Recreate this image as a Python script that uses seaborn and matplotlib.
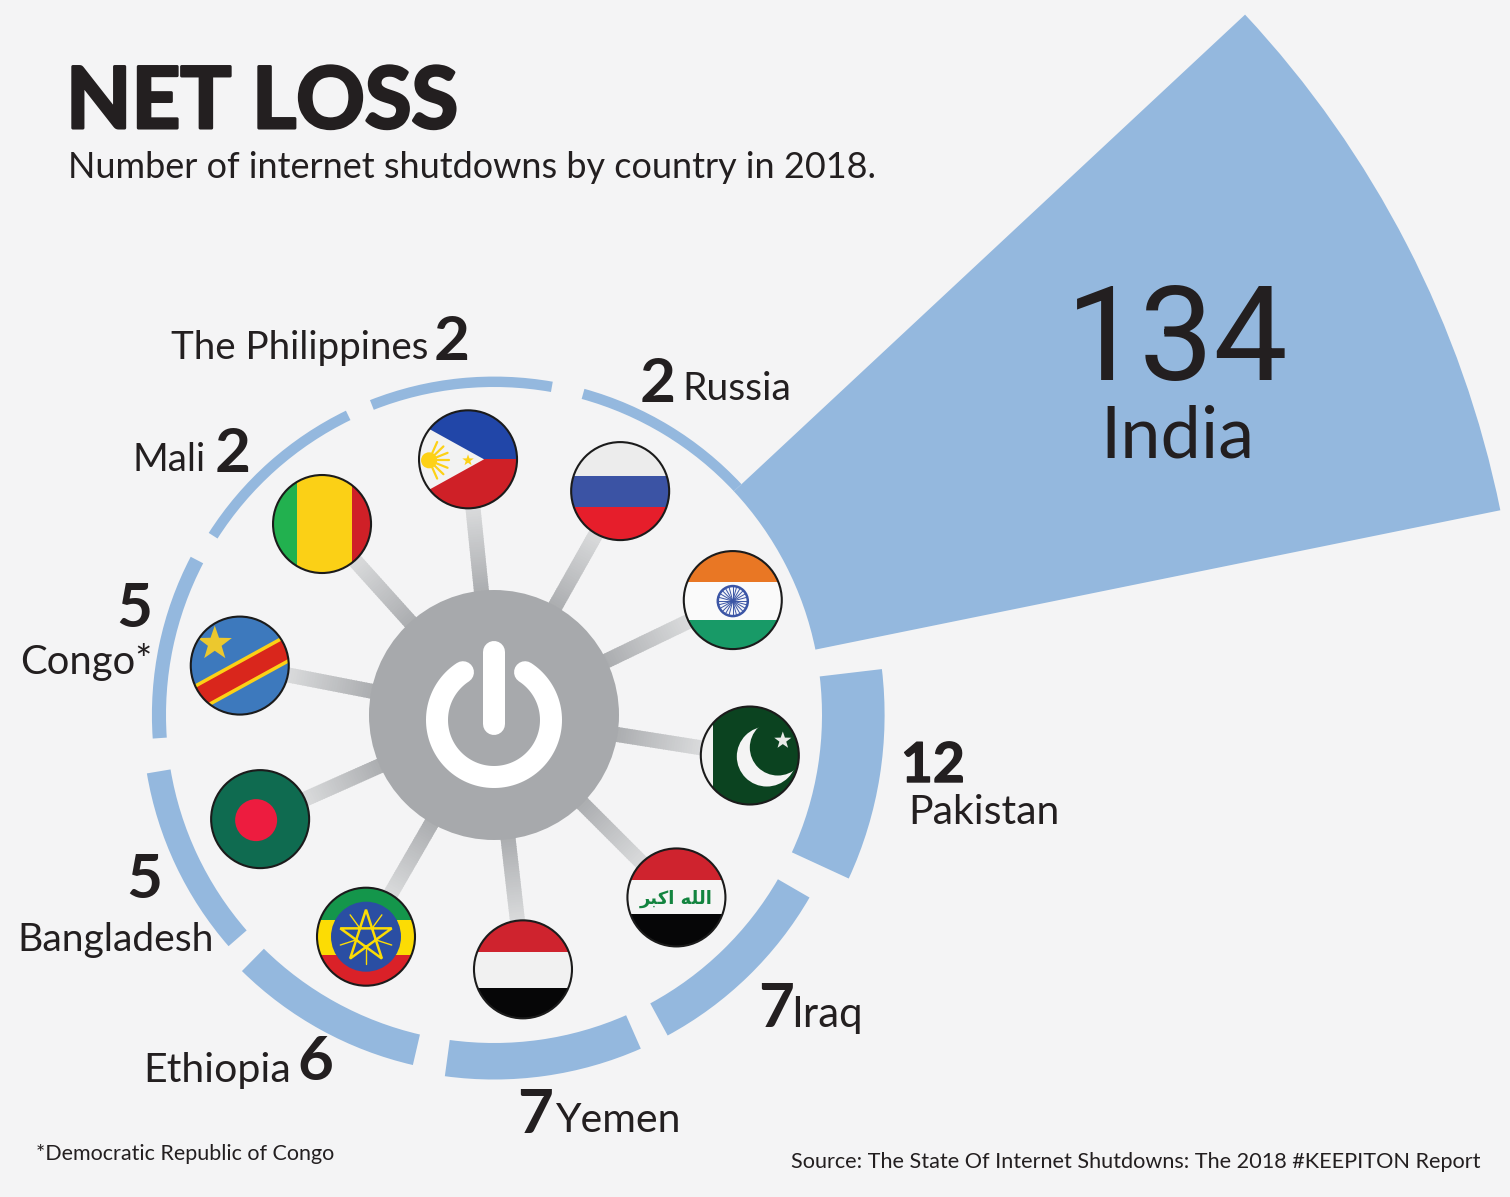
import numpy as np
import pandas as pd
import matplotlib
matplotlib.use("Agg")
import matplotlib.pyplot as plt
import matplotlib.patheffects as pe
from matplotlib.patches import Circle, Rectangle, Polygon
from matplotlib.collections import LineCollection
import seaborn as sns

countries = ["Pakistan", "India", "Russia", "The Philippines", "Mali", "Congo*",
             "Bangladesh", "Ethiopia", "Yemen", "Iraq"]
shutdowns = [12, 134, 2, 2, 2, 5, 5, 6, 7, 7]
# Radial length of each arc as the reference draws it: its Congo arc is thinner than its label of 5.
arc_lengths = [12, 134, 2, 2, 2, 2.7, 4.6, 6, 7, 7]
bar_angles = [351.0, 27.25, 58.75, 95.75, 131.7, 168.2, 205.3, 241.2, 278.0, 314.2]
flag_angles = [-9.0, 25.7, 60.6, 95.8, 132.0, 169.0, 204.0, 240.0, 276.5, 315.0]
title = "NET LOSS"
subtitle = "Number of internet shutdowns by country in 2018."
footnote = "*Democratic Republic of Congo"
source = "Source: The State Of Internet Shutdowns: The 2018 #KEEPITON Report"

W, H = 1510, 1197
BG = "#f4f4f5"
BLUE = "#94b8de"
INK = "#231f20"
HUB = "#a7a9ac"
CX, CY = 494, 715
PX_PER_UNIT = 5.216
INNER = 328 / PX_PER_UNIT
RMAX = 200
FONT = "Lato"

sns.set_theme(style="white")
plt.rcParams["font.family"] = [FONT, "DejaVu Sans"]
fig = plt.figure(figsize=(W / 100, H / 100), dpi=100, facecolor=BG)

R_PX = RMAX * PX_PER_UNIT
pol = fig.add_axes([(CX - R_PX) / W, (H - CY - R_PX) / H, 2 * R_PX / W, 2 * R_PX / H],
                   projection="polar")
df = pd.DataFrame({"theta": np.deg2rad(bar_angles), "length": arc_lengths})
sns.barplot(data=df, x="theta", y="length", native_scale=True, width=1.0, errorbar=None,
            bottom=INNER, color=BLUE, saturation=1, linewidth=0, ax=pol)
pol.set_thetalim(0, 2 * np.pi)
pol.set_rlim(0, RMAX)
pol.set_axis_off()

ax = fig.add_axes([0, 0, 1, 1], facecolor="none")
ax.set_xlim(0, W)
ax.set_ylim(H, 0)
ax.set_axis_off()


def polar_pt(angle, r):
    a = np.deg2rad(angle)
    return CX + r * np.cos(a), CY - r * np.sin(a)


def star(cx, cy, r, rot=0, inner=0.4):
    pts = []
    for i in range(10):
        a = np.deg2rad(-90 + rot + 36 * i)
        rr = r if i % 2 == 0 else r * inner
        pts.append((cx + rr * np.cos(a), cy + rr * np.sin(a)))
    return pts


flag_r = {"Pakistan": 259, "India": 265, "Russia": 257, "The Philippines": 257, "Mali": 257,
          "Congo*": 259, "Bangladesh": 256, "Ethiopia": 256, "Yemen": 256, "Iraq": 258}
spoke_colors = sns.blend_palette([HUB, "#dedfe0"], 40)
FR = 49


def draw_spoke(name, angle):
    r0, r1 = 115, flag_r[name] - 40
    rs = np.linspace(r0, r1, 41)
    segs = [[polar_pt(angle, rs[i]), polar_pt(angle, min(rs[i + 1] + 1, r1))] for i in range(40)]
    ax.add_collection(LineCollection(segs, colors=spoke_colors, linewidths=15 * 0.72,
                                     capstyle="butt", zorder=1))


def draw_flag(name, cx, cy):
    clip = Circle((cx, cy), FR, transform=ax.transData)

    def add(p, z=3):
        p.set_zorder(z)
        p.set_linewidth(0)
        ax.add_patch(p)
        p.set_clip_path(clip)
        return p

    def hband(y0, y1, c):
        add(Rectangle((cx - FR, cy + y0), 2 * FR, y1 - y0, facecolor=c))

    def vband(x0, x1, c):
        add(Rectangle((cx + x0, cy - FR), x1 - x0, 2 * FR, facecolor=c))

    if name == "India":
        hband(-FR, -18, "#e97724")
        hband(-18, 20, "#fafafa")
        hband(20, FR, "#189a67")
        ax.add_patch(Circle((cx, cy + 1), 15, facecolor="#f4f6fb", edgecolor="#3b55a5", lw=1.8, zorder=4))
        for k in range(12):
            a = np.deg2rad(15 * k)
            ax.plot([cx - 15 * np.cos(a), cx + 15 * np.cos(a)],
                    [cy + 1 - 15 * np.sin(a), cy + 1 + 15 * np.sin(a)],
                    color="#3b55a5", lw=0.7, zorder=4)
    elif name == "Russia":
        hband(-FR, -15, "#ececec")
        hband(-15, 16, "#3b53a4")
        hband(16, FR, "#e61e2b")
    elif name == "The Philippines":
        hband(-FR, 0, "#2146a8")
        hband(0, FR, "#cf2027")
        add(Polygon([(cx - 49, cy - 36), (cx + 16, cy), (cx - 49, cy + 36)], facecolor="#f2f2f2"), 4)
        add(Circle((cx - 39, cy + 1), 8, facecolor="#fdd116"), 5)
        for k in range(-3, 4):
            a = np.deg2rad(22 * k)
            line = ax.plot([cx - 39, cx - 39 + 20 * np.cos(a)], [cy + 1, cy + 1 + 20 * np.sin(a)],
                           color="#fdd116", lw=1.6, zorder=5)[0]
            line.set_clip_path(clip)
        add(Polygon(star(cx, cy + 1, 6), facecolor="#fdd116"), 5)
    elif name == "Mali":
        vband(-FR, -25, "#22b14f")
        vband(-25, 30, "#fbd016")
        vband(30, FR, "#cf2027")
    elif name == "Congo*":
        add(Circle((cx, cy), FR, facecolor="#3d79bd"))
        s = -0.55
        yl = lambda x, d: cy + 9 + s * x + d
        add(Polygon([(cx - 55, yl(-55, -15)), (cx + 55, yl(55, -15)), (cx + 55, yl(55, 15)), (cx - 55, yl(-55, 15))],
                    facecolor="#fcd116"), 4)
        add(Polygon([(cx - 55, yl(-55, -11)), (cx + 55, yl(55, -11)), (cx + 55, yl(55, 11)), (cx - 55, yl(-55, 11))],
                    facecolor="#d9261c"), 5)
        add(Polygon(star(cx - 25, cy - 22, 18), facecolor="#ecc82e"), 5)
    elif name == "Bangladesh":
        add(Circle((cx, cy), FR, facecolor="#0f6b50"))
        add(Circle((cx - 4, cy + 1), 21, facecolor="#ed1c3f"), 4)
    elif name == "Ethiopia":
        hband(-FR, -17, "#14964b")
        hband(-17, 18, "#fcdc04")
        hband(18, FR, "#da2128")
        add(Circle((cx, cy), 35, facecolor="#2a4ea3"), 4)
        P = star(cx, cy, 27, inner=1)
        pent = [P[0], P[4], P[8], P[2], P[6]]
        ax.add_patch(Polygon(pent, closed=True, fill=False, edgecolor="#fcdc04", lw=1.8, zorder=5))
        for k in range(5):
            a = np.deg2rad(90 + 72 * k)
            ax.plot([cx + 12 * np.cos(a), cx + 27 * np.cos(a)], [cy + 12 * np.sin(a), cy + 27 * np.sin(a)],
                    color="#fcdc04", lw=1.0, zorder=5)
    elif name == "Yemen":
        hband(-FR, -17, "#cf232e")
        hband(-17, 19, "#f1f1f1")
        hband(19, FR, "#060607")
    elif name == "Iraq":
        hband(-FR, -17, "#cf232e")
        hband(-17, 17, "#f5f5f5")
        hband(17, FR, "#060607")
        ax.text(cx, cy + 1, "\uFEAE\uFE92\uFEDB\uFE8D \uFEEA\uFEE0\uFEDF\uFE8D", color="#13843f", ha="center",
                va="center", fontsize=13, fontweight="bold", family="DejaVu Sans", zorder=5)
    elif name == "Pakistan":
        add(Circle((cx, cy), FR, facecolor="#0b4320"))
        vband(-FR, -37, "#f2f2f2")
        add(Circle((cx + 17, cy + 1), 30, facecolor="#f4f4f4"), 4)
        add(Circle((cx + 28, cy - 8), 28, facecolor="#0b4320"), 5)
        add(Polygon(star(cx + 33, cy - 15, 9), facecolor="#e9ebe8"), 6)
    ax.add_patch(Circle((cx, cy), FR, fill=False, edgecolor="#1b1b1b", lw=1.5, zorder=7))


for name, ang in zip(countries, flag_angles):
    draw_spoke(name, ang)
    fx, fy = polar_pt(ang, flag_r[name])
    draw_flag(name, fx, fy)

ax.add_patch(Circle((CX, CY), 125, facecolor=HUB, edgecolor="none", zorder=2))
pw_y = 720
arc = np.deg2rad(np.linspace(123, 417, 120))
ax.plot(CX + 57 * np.cos(arc), pw_y - 57 * np.sin(arc), color="white", lw=22 * 0.72,
        solid_capstyle="round", zorder=3)
ax.plot([CX, CX], [652, 724], color="white", lw=22 * 0.72, solid_capstyle="round", zorder=3)


def T(x, y, s, px, weight="normal", ha="left", color=INK, family=None, stroke=0):
    t = ax.text(x, y, s, fontsize=px * 0.72, fontweight=weight, ha=ha, va="baseline", color=color, zorder=8)
    if family:
        t.set_family(family)
    if stroke:
        t.set_path_effects([pe.withStroke(linewidth=stroke, foreground=color)])


count = dict(zip(countries, shutdowns))
NUM = 62
T(66, 128, title, 85, "bold", stroke=2.2)
T(68, 178, subtitle, 36)
T(1177, 380, str(count["India"]), 132, ha="center", family="Roboto")
T(1177, 457, "India", 72, ha="center")
T(428, 359, countries[3], 38.5, ha="right")
T(434, 360, str(count["The Philippines"]), NUM, "bold")
T(640, 402, str(count["Russia"]), NUM, "bold")
T(682, 400, "Russia", 39)
T(133, 471, "Mali", 38.5)
T(215, 472, str(count["Mali"]), NUM, "bold")
T(134, 627, str(count["Congo*"]), NUM, "bold", ha="center")
T(20, 674, "Congo*", 40)
T(144, 898, str(count["Bangladesh"]), NUM, "bold", ha="center")
T(17, 951, "Bangladesh", 39)
T(143, 1082, "Ethiopia", 41)
T(297, 1080, str(count["Ethiopia"]), NUM, "bold")
T(517, 1133, str(count["Yemen"]), NUM, "bold")
T(555, 1132, "Yemen", 41)
T(758, 1027, str(count["Iraq"]), NUM, "bold")
T(791, 1027, "Iraq", 42)
T(901, 782, str(count["Pakistan"]), 55, "bold", stroke=1)
T(908, 824, "Pakistan", 41)
T(36, 1160, footnote, 21.5)
T(791, 1168, source, 21.7)

fig.savefig("out.png", dpi=100, facecolor=BG)
